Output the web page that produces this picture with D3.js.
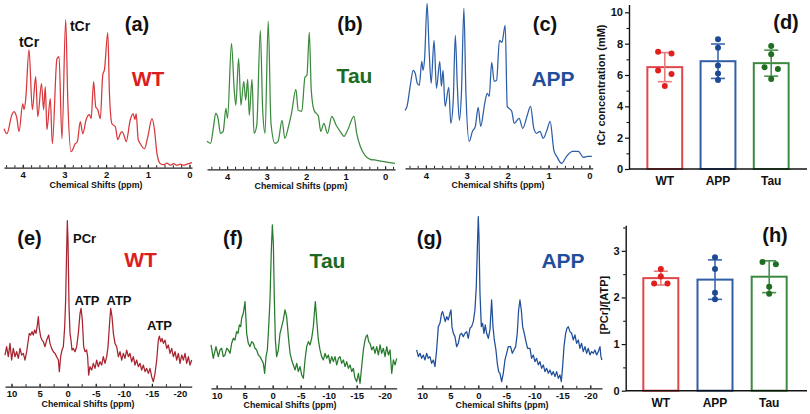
<!DOCTYPE html>
<html><head><meta charset="utf-8">
<script src="https://cdn.jsdelivr.net/npm/d3@7"></script>
<style>
body{margin:0;background:#fff;}
svg{font-family:"Liberation Sans",Arial,Helvetica,sans-serif;}
</style></head><body>
<svg id="c" width="810" height="414"></svg>
<script>
// ---------------- DATA ----------------
const groups = ["WT", "APP", "Tau"];
const tcrWT  = [7.49, 7.38, 6.28, 6.06, 5.30];
const tcrAPP = [8.28, 7.74, 6.60, 6.10, 5.68];
const tcrTau = [7.85, 7.32, 6.49, 6.38, 5.74];
const ratioWT  = [2.61, 2.45, 2.30, 2.30];
const ratioAPP = [2.86, 2.61, 2.10, 1.96];
const ratioTau = [2.76, 2.71, 2.23, 2.08];
const tcrTicks = [0, 2, 4, 6, 8, 10];
const ratioTicks = [0, 1, 2, 3];
const protonTicks = [4, 3, 2, 1, 0];
const p31Ticks = [10, 5, 0, -5, -10, -15, -20];
const axisTitle = "Chemical Shifts (ppm)";

// 1H spectra [ppm, intensity a.u.]
const specWT1H = [[4.45,39],[4.38,34],[4.26,53],[4.21,56],[4.14,49],[4.09,36],[4.00,64],[3.97,58],[3.93,68],[3.85,118],[3.77,58],[3.69,91],[3.64,51],[3.55,84],[3.50,58],[3.46,81],[3.42,38],[3.34,69],[3.29,24],[3.18,109],[3.13,111],[3.06,29],[2.97,148],[2.92,68],[2.84,16],[2.74,24],[2.69,26],[2.62,46],[2.56,34],[2.48,48],[2.40,53],[2.36,49],[2.30,86],[2.25,61],[2.20,58],[2.14,49],[2.08,93],[2.04,98],[1.96,135],[1.92,74],[1.86,44],[1.78,41],[1.72,28],[1.66,34],[1.62,36],[1.56,31],[1.52,26],[1.42,48],[1.35,54],[1.31,48],[1.28,54],[1.23,28],[1.18,24],[1.08,19],[1.00,31],[0.90,49],[0.84,38],[0.78,14],[0.70,4],[0.62,3],[0.54,4.5],[0.46,2.5],[0.38,4],[0.30,2.5],[0.22,3.5],[0.14,2.5],[0.06,3.5],[-0.06,5]];
const specTau1H = [[4.51,28],[4.42,26],[4.34,44],[4.29,56],[4.23,51],[4.17,36],[4.10,38],[4.03,61],[3.99,51],[3.89,126],[3.82,79],[3.78,64],[3.71,111],[3.65,64],[3.58,88],[3.53,69],[3.48,90],[3.44,54],[3.37,90],[3.32,36],[3.25,44],[3.16,139],[3.10,59],[3.04,36],[2.96,148],[2.89,46],[2.79,26],[2.71,28],[2.61,49],[2.54,31],[2.44,44],[2.37,56],[2.26,80],[2.20,59],[2.11,58],[2.03,92],[1.98,94],[1.92,137],[1.87,79],[1.80,59],[1.69,53],[1.63,38],[1.55,46],[1.46,36],[1.35,53],[1.24,44],[1.14,38],[1.04,33],[0.95,39],[0.79,53],[0.72,36],[0.63,23],[0.51,14],[0.38,10],[0.21,9],[0.08,8],[-0.08,7],[-0.25,6]];
const specAPP1H = [[4.51,58],[4.46,62],[4.38,83],[4.31,98],[4.26,95],[4.21,85],[4.16,83],[4.10,107],[4.07,98],[4.03,110],[3.97,165],[3.92,118],[3.87,85],[3.80,128],[3.74,80],[3.66,107],[3.62,82],[3.58,98],[3.53,62],[3.44,81],[3.39,45],[3.33,68],[3.28,133],[3.23,82],[3.18,48],[3.13,75],[3.07,160],[3.02,75],[2.94,27],[2.86,37],[2.79,42],[2.72,61],[2.66,42],[2.56,65],[2.50,75],[2.45,72],[2.39,106],[2.33,87],[2.27,88],[2.20,128],[2.14,126],[2.06,143],[2.01,62],[1.90,57],[1.84,45],[1.72,50],[1.63,40],[1.52,53],[1.44,62],[1.36,40],[1.29,35],[1.21,37],[1.13,30],[1.04,38],[0.96,47],[0.87,18],[0.80,12],[0.68,5],[0.56,12],[0.41,17],[0.27,17],[0.15,11],[0.04,12],[-0.06,12]];

// 31P spectra [ppm, intensity a.u.]
const specWT31P = [[11.16,95],[10.87,120],[10.57,90],[10.27,130],[9.98,80],[9.68,115],[9.38,90],[9.09,105],[8.79,85],[8.49,115],[8.19,95],[7.90,100],[7.60,80],[7.30,105],[7.01,140],[6.83,160],[6.59,155],[6.35,165],[6.12,155],[5.88,170],[5.64,160],[5.40,185],[5.23,210],[5.05,175],[4.81,150],[4.57,140],[4.33,135],[4.04,120],[3.74,140],[3.38,155],[3.15,130],[2.85,115],[2.55,105],[2.26,100],[1.96,90],[1.66,80],[1.48,45],[1.25,90],[1.01,110],[0.77,120],[0.53,180],[0.36,260],[0.18,410],[0.06,498],[-0.06,440],[-0.24,240],[-0.42,160],[-0.59,140],[-0.77,110],[-1.01,115],[-1.31,105],[-1.60,120],[-1.90,160],[-2.20,220],[-2.38,235],[-2.61,200],[-2.85,120],[-3.09,105],[-3.38,110],[-3.56,90],[-3.74,35],[-3.98,60],[-4.28,50],[-4.57,70],[-4.87,55],[-5.17,80],[-5.46,60],[-5.76,75],[-6.06,65],[-6.35,90],[-6.65,70],[-6.95,90],[-7.19,120],[-7.42,180],[-7.66,235],[-7.90,210],[-8.14,160],[-8.43,130],[-8.73,120],[-9.03,90],[-9.32,105],[-9.62,80],[-9.92,100],[-10.21,85],[-10.51,110],[-10.81,90],[-11.10,100],[-11.40,75],[-11.70,90],[-12.00,65],[-12.29,80],[-12.59,60],[-12.89,70],[-13.18,50],[-13.48,65],[-13.78,45],[-14.07,55],[-14.37,40],[-14.67,55],[-14.96,30],[-15.26,15],[-15.56,40],[-15.86,80],[-16.15,140],[-16.33,152],[-16.57,135],[-16.81,145],[-17.04,130],[-17.34,140],[-17.64,115],[-17.93,125],[-18.23,100],[-18.53,115],[-18.82,90],[-19.12,105],[-19.42,80],[-19.71,100],[-20.01,70],[-20.31,95],[-20.61,80],[-20.90,100],[-21.20,70],[-21.50,90],[-21.79,65],[-22.09,80]];
const specTau31P = [[11.01,130],[10.60,90],[10.12,125],[9.70,95],[9.40,115],[9.11,120],[8.81,95],[8.51,100],[8.21,120],[7.92,115],[7.62,105],[7.32,135],[7.02,150],[6.73,145],[6.43,170],[6.19,165],[5.95,190],[5.71,185],[5.54,210],[5.24,225],[4.94,260],[4.76,205],[4.64,165],[4.35,135],[4.05,125],[3.75,140],[3.45,135],[3.15,120],[2.86,115],[2.56,100],[2.26,95],[1.96,85],[1.67,75],[1.43,45],[1.19,95],[0.95,115],[0.71,185],[0.48,265],[0.24,415],[0.06,490],[-0.12,435],[-0.30,265],[-0.48,145],[-0.71,95],[-1.01,115],[-1.31,165],[-1.61,185],[-1.90,205],[-2.20,235],[-2.50,215],[-2.80,155],[-3.10,105],[-3.39,85],[-3.69,70],[-3.99,55],[-4.29,75],[-4.58,50],[-4.88,65],[-5.18,40],[-5.48,30],[-5.77,85],[-6.07,125],[-6.37,140],[-6.67,130],[-6.96,150],[-7.26,185],[-7.44,225],[-7.62,260],[-7.86,205],[-8.15,145],[-8.45,115],[-8.75,95],[-9.05,85],[-9.35,105],[-9.64,90],[-9.94,100],[-10.24,75],[-10.54,95],[-10.83,80],[-11.13,95],[-11.43,70],[-11.73,90],[-12.02,95],[-12.32,75],[-12.62,85],[-12.92,65],[-13.21,80],[-13.51,60],[-13.81,70],[-14.11,50],[-14.40,60],[-14.70,30],[-15.00,20],[-15.30,45],[-15.60,15],[-15.89,65],[-16.19,115],[-16.49,145],[-16.67,155],[-16.90,160],[-17.14,140],[-17.38,135],[-17.68,115],[-17.98,125],[-18.27,105],[-18.57,125],[-18.87,100],[-19.17,130],[-19.46,105],[-19.76,120],[-20.06,95],[-20.36,125],[-20.65,100],[-20.95,115],[-21.25,45],[-21.55,85],[-21.85,70],[-22.14,90]];
const specAPP31P = [[11.01,115],[10.71,95],[10.42,105],[10.12,90],[9.82,100],[9.52,85],[9.23,105],[8.93,90],[8.63,95],[8.33,75],[8.04,85],[7.74,65],[7.44,115],[7.14,185],[6.85,195],[6.55,225],[6.37,230],[6.13,215],[5.89,200],[5.65,215],[5.36,205],[5.06,225],[4.88,235],[4.70,185],[4.46,165],[4.17,155],[3.87,125],[3.57,135],[3.27,160],[2.98,165],[2.68,155],[2.38,165],[2.08,170],[1.79,150],[1.49,180],[1.19,185],[0.89,200],[0.60,235],[0.36,305],[0.18,415],[0.00,515],[-0.12,455],[-0.30,285],[-0.54,185],[-0.77,195],[-1.01,165],[-1.25,190],[-1.49,165],[-1.79,150],[-2.08,175],[-2.38,265],[-2.62,185],[-2.86,145],[-3.15,115],[-3.39,75],[-3.63,50],[-3.87,45],[-4.17,20],[-4.46,45],[-4.76,85],[-5.06,105],[-5.36,125],[-5.77,125],[-6.07,105],[-6.37,115],[-6.67,125],[-6.96,165],[-7.20,235],[-7.44,265],[-7.68,235],[-7.92,185],[-8.21,165],[-8.51,140],[-8.81,120],[-9.23,120],[-9.52,90],[-9.82,100],[-10.12,80],[-10.42,90],[-10.71,70],[-11.01,80],[-11.31,60],[-11.61,70],[-11.90,50],[-12.20,60],[-12.50,45],[-12.80,55],[-13.10,40],[-13.39,50],[-13.69,35],[-13.99,50],[-14.29,30],[-14.58,40],[-14.82,20],[-15.06,65],[-15.30,125],[-15.60,165],[-15.83,180],[-16.07,185],[-16.37,170],[-16.67,165],[-16.96,145],[-17.26,160],[-17.56,135],[-17.86,145],[-18.15,120],[-18.45,135],[-18.75,110],[-19.05,125],[-19.35,105],[-19.64,120],[-19.94,100],[-20.24,110],[-20.54,105],[-20.83,115],[-21.13,100],[-21.43,110],[-21.73,125],[-21.90,95],[-22.08,85]];

// ---------------- STYLE ----------------
const textCol = {WT:"#dc1e1e", APP:"#1f4e9c", Tau:"#1c6b20"};
const barCol  = {WT:"#e0474c", APP:"#2f5ea6", Tau:"#3b8a3f"};
const ptCol   = {WT:"#e01f1f", APP:"#1d4a95", Tau:"#1f6e22"};
const errCol  = {WT:"#e57b7b", APP:"#3d68ad", Tau:"#4a9250"};
const svg = d3.select("#c");

function txt(x, y, s, size, color, anchor){
  svg.append("text").attr("x", x).attr("y", y).text(s)
    .attr("font-size", size).attr("font-weight", "bold")
    .attr("fill", color || "#111").attr("text-anchor", anchor || "middle");
}

function spectrum(data, cfg){
  const x = d3.scaleLinear().domain(cfg.dom).range([cfg.x0, cfg.x1]);
  const y = d3.scaleLinear().domain([0, cfg.imax]).range([cfg.axisY, cfg.axisY - cfg.hmax]);
  const g = svg.append("g");
  g.append("path").datum(data)
    .attr("d", d3.line().x(d => x(d[0])).y(d => y(d[1])).curve(cfg.curve))
    .attr("fill", "none").attr("stroke", cfg.color).attr("stroke-width", 1.25)
    .attr("stroke-linejoin", "round");
  const lo = Math.min(...cfg.dom), hi = Math.max(...cfg.dom);
  const minor = d3.range(Math.ceil(lo / cfg.minor) * cfg.minor, hi, cfg.minor);
  const ax2 = g.append("g").attr("transform", `translate(0,${cfg.axisY})`)
    .call(d3.axisBottom(x).tickValues(minor).tickSize(-2.5).tickFormat(""));
  ax2.select(".domain").remove();
  ax2.selectAll("line").attr("stroke", "#222");
  const ax = g.append("g").attr("transform", `translate(0,${cfg.axisY})`)
    .call(d3.axisBottom(x).tickValues(cfg.ticks).tickSizeInner(-3).tickSizeOuter(0).tickPadding(4).tickFormat(d => String(d)));
  ax.select(".domain").attr("stroke", "#222").attr("stroke-width", 1.2);
  ax.selectAll("line").attr("stroke", "#222");
  ax.selectAll("text").attr("font-size", 9.5).attr("font-weight", "bold")
    .attr("fill", "#111").attr("font-family", "Liberation Sans, Arial, sans-serif");
  txt(cfg.titleX, cfg.axisY + 20, axisTitle, 8.8, "#111");
}

const protonCfg = {imax:150, hmax:150, minor:0.2, ticks:protonTicks, curve:d3.curveMonotoneX};
const p31Cfg = {imax:600, hmax:200, minor:2.5, ticks:p31Ticks, curve:d3.curveLinear};

spectrum(specWT1H,  {...protonCfg, dom:[4.45,-0.06], x0:4,   x1:192,   axisY:167.7, color:"#d8373b", titleX:96});
spectrum(specTau1H, {...protonCfg, dom:[4.51,-0.25], x0:207, x1:395,   axisY:169.3, color:"#3c8a3e", titleX:301});
spectrum(specAPP1H, {...protonCfg, dom:[4.51,-0.08], x0:405, x1:592.7, axisY:168.3, color:"#2c5ea8", titleX:498});
spectrum(specWT31P,  {...p31Cfg, dom:[11.16,-22.09], x0:5,     x1:191.7, axisY:386.7, color:"#a8232f", titleX:88});
spectrum(specTau31P, {...p31Cfg, dom:[11.01,-22.14], x0:211,   x1:396.7, axisY:388.3, color:"#277a2b", titleX:290});
spectrum(specAPP31P, {...p31Cfg, dom:[11.0,-22.09],  x0:416.7, x1:602,   axisY:388.3, color:"#1f4f9a", titleX:502});

// annotations
txt(137, 31, "(a)", 20); txt(148, 85.5, "WT", 21, textCol.WT);
txt(29, 47, "tCr", 14); txt(80, 31, "tCr", 14);
txt(350, 31, "(b)", 20); txt(354.5, 83, "Tau", 21, textCol.Tau);
txt(545, 31, "(c)", 20); txt(553, 86, "APP", 21, textCol.APP);
txt(29.5, 245, "(e)", 20); txt(140.5, 267, "WT", 21, textCol.WT);
txt(73, 243, "PCr", 13, "#111", "start");
txt(87, 305, "ATP", 13); txt(119, 305, "ATP", 13); txt(159.5, 330, "ATP", 13);
txt(233, 245, "(f)", 20); txt(327.5, 268, "Tau", 21, textCol.Tau);
txt(429.5, 245, "(g)", 20); txt(563, 268, "APP", 21, textCol.APP);

// ---------------- BAR CHARTS ----------------
function dodge(vals, y, r, d){
  const placed = [];
  vals.map(v => ({v})).sort((a, b) => b.v - a.v).forEach(p => {
    p.py = y(p.v); p.off = 0;
    const hit = placed.find(q => q.off === 0 && Math.abs(q.py - p.py) < 2 * r);
    if (hit) { hit.off = -d; p.off = d; }
    placed.push(p);
  });
  return placed;
}

function barChart(sets, cfg){
  const y = d3.scaleLinear().domain([0, cfg.top]).range([cfg.bottom, cfg.topPx]);
  const x = d3.scaleBand().domain(groups).range([cfg.x0, cfg.x1])
    .paddingInner(cfg.pi).paddingOuter(cfg.po);
  const g = svg.append("g");
  groups.forEach((k, i) => {
    const vals = sets[i];
    const m = d3.mean(vals), sd = d3.deviation(vals);
    const cx = x(k) + x.bandwidth() / 2;
    g.append("rect").attr("x", x(k)).attr("y", y(m))
      .attr("width", x.bandwidth()).attr("height", y(0) - y(m))
      .attr("fill", "#fff").attr("stroke", barCol[k]).attr("stroke-width", 2);
    const e = g.append("g").attr("stroke", errCol[k]).attr("stroke-width", 1.6);
    e.append("line").attr("x1", cx).attr("x2", cx).attr("y1", y(m - sd)).attr("y2", y(m + sd));
    [m - sd, m + sd].forEach(v => e.append("line")
      .attr("x1", cx - 7).attr("x2", cx + 7).attr("y1", y(v)).attr("y2", y(v)));
    dodge(vals, y, 3, 6.7).forEach(p => {
      g.append("circle").attr("cx", cx + p.off).attr("cy", y(p.v)).attr("r", 3)
        .attr("fill", ptCol[k]);
    });
    txt(cx, cfg.bottom + 16, k, 12, "#111");
  });
  const minorAx = g.append("g").attr("transform", `translate(${cfg.x0},0)`)
    .call(d3.axisLeft(y).tickValues(cfg.minorTicks).tickSize(2.5).tickFormat(""));
  minorAx.select(".domain").remove();
  const ax = g.append("g").attr("transform", `translate(${cfg.x0},0)`)
    .call(d3.axisLeft(y).tickValues(cfg.ticks).tickSizeInner(4).tickSizeOuter(0).tickPadding(2).tickFormat(d3.format("d")));
  ax.select(".domain").attr("stroke", "#111").attr("stroke-width", 1.4);
  ax.selectAll("line").attr("stroke", "#111").attr("stroke-width", 1.2);
  minorAx.selectAll("line").attr("stroke", "#111").attr("stroke-width", 1.1);
  ax.selectAll("text").attr("font-size", 11).attr("font-weight", "bold").attr("fill", "#111")
    .attr("font-family", "Liberation Sans, Arial, sans-serif");
  g.append("line").attr("x1", cfg.x0).attr("x2", cfg.xEnd).attr("y1", cfg.bottom).attr("y2", cfg.bottom)
    .attr("stroke", "#111").attr("stroke-width", 1.4);
  svg.append("text").attr("transform", `translate(${cfg.labelX},${cfg.labelY}) rotate(-90)`)
    .attr("text-anchor", "middle").attr("font-size", 11).attr("font-weight", "bold")
    .attr("fill", "#111").text(cfg.label);
  txt(cfg.tagX, cfg.tagY, cfg.tag, 20);
}

barChart([tcrWT, tcrAPP, tcrTau], {
  top:10.5, bottom:169, topPx:4.5, x0:629, x1:807, xEnd:807, pi:0.345, po:0.345,
  ticks:tcrTicks, minorTicks:[1,3,5,7,9], label:"tCr concentration (mM)",
  labelX:605, labelY:85, tag:"(d)", tagX:786, tagY:29
});
barChart([ratioWT, ratioAPP, ratioTau], {
  top:3.55, bottom:390.7, topPx:225.2, x0:625.7, x1:804.3, xEnd:807, pi:0.354, po:0.325,
  ticks:ratioTicks, minorTicks:[0.5,1.5,2.5,3.5], label:"[PCr]/[ATP]",
  labelX:608, labelY:305, tag:"(h)", tagX:775, tagY:242
});
</script>
</body></html>
